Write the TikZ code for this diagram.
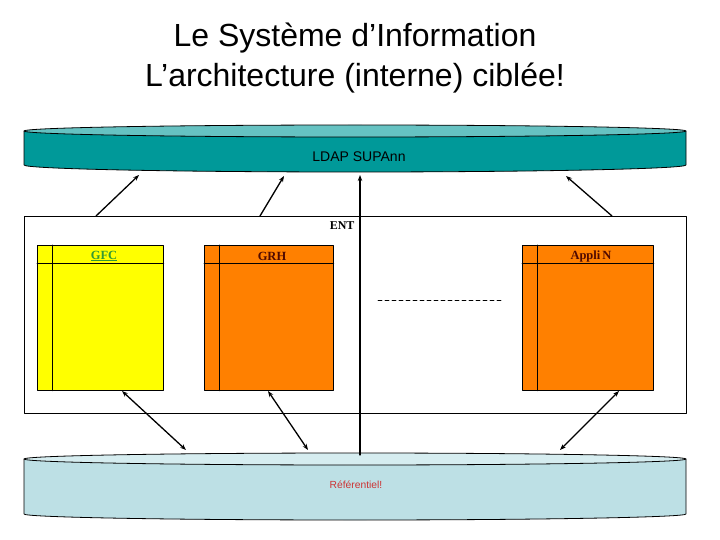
\documentclass[tikz,border=0pt]{standalone}
\usepackage{fontspec}
\setmainfont{Liberation Serif}
\setsansfont{Liberation Sans}
\usetikzlibrary{arrows.meta}

\begin{document}
\begin{tikzpicture}[x=1pt, y=-1pt, line cap=round, line join=round,
    >={Stealth[length=6pt, width=4.5pt]}]

  \useasboundingbox (0,0) rectangle (720,540);

  \def\L{24}           % left edge of bands and ENT
  \def\R{686}          % right edge
  \def\rx{331}         % half width of the bands
  \def\ry{6}           % flattening of the band ellipses

  % Colors
  \definecolor{ldapBody}{RGB}{0,153,153}
  \definecolor{ldapTop}{RGB}{102,194,194}
  \definecolor{refBody}{RGB}{189,224,229}
  \definecolor{refTop}{RGB}{214,237,240}
  \definecolor{appYellow}{RGB}{255,255,0}
  \definecolor{appOrange}{RGB}{255,128,0}
  \definecolor{gfcGreen}{RGB}{51,153,51}
  \definecolor{appText}{RGB}{80,10,0}
  \definecolor{refRed}{RGB}{204,51,51}

  \tikzset{
    appbox/.style={draw, line width=0.8pt, minimum width=126pt, minimum height=145pt,
      anchor=north west, inner sep=0pt},
    applabel/.style={font=\bfseries\fontsize{12.5}{14}\selectfont, text=appText},
    link/.style={line width=1.3pt}
  }

  % Title
  \node[font=\sffamily\fontsize{32}{36}\selectfont] (title1) at (355,38) {Le Système d’Information};
  \node[font=\sffamily\fontsize{32}{36}\selectfont] (title2) at (355,78) {L’architecture (interne) ciblée!};

  % LDAP band (flat cylinder)
  \draw[fill=ldapBody, line width=0.8pt] (\L,131) -- (\L,165)
    arc[start angle=180, end angle=360, x radius=\rx, y radius=-7] -- (\R,131) -- cycle;
  \draw[fill=ldapTop, line width=0.8pt] (355,131) ellipse[x radius=\rx, y radius=\ry];
  \node[font=\sffamily\fontsize{14}{16}\selectfont] (ldap) at (359,157) {LDAP SUPAnn};

  % Referentiel band
  \draw[fill=refBody, line width=0.8pt] (\L,459) -- (\L,514)
    arc[start angle=180, end angle=360, x radius=\rx, y radius=-6] -- (\R,459) -- cycle;
  \draw[fill=refTop, line width=0.8pt] (355,459) ellipse[x radius=\rx, y radius=\ry];
  \node[font=\sffamily\fontsize{10.3}{12}\selectfont, text=refRed] (ref) at (356,485) {Référentiel!};

  % ENT frame
  \node[draw, line width=0.8pt, minimum width=662pt, minimum height=197pt,
    anchor=north west, inner sep=0pt] (ent) at (\L,216) {};
  \node[font=\bfseries\fontsize{12}{14}\selectfont, anchor=east] (entlabel) at (358,226) {ENT};

  % Applications
  \node[appbox, fill=appYellow] (gfc) at (37,245) {};
  \node[appbox, fill=appOrange, minimum width=129pt] (grh) at (204,245) {};
  \node[appbox, fill=appOrange, minimum width=131pt] (applin) at (522,245) {};
  \foreach \a in {gfc, grh, applin} {
    \draw[line width=0.8pt] ([xshift=15pt]\a.north west) -- ([xshift=15pt]\a.south west);
    \draw[line width=0.8pt] ([yshift=-18pt]\a.north west) -- ([yshift=-18pt]\a.north east);
  }
  \node[applabel, text=gfcGreen] (gfclabel) at (104,256) {\underline{GFC}};
  \node[applabel] (grhlabel) at (272,256) {GRH};
  \node[applabel] (applilabel) at (591,256) {Appli\,N};

  % dashed placeholder
  \coordinate (dashA) at (378,300);
  \coordinate (dashB) at (502,300);
  \draw[dashed, line width=0.8pt, dash pattern=on 4pt off 3pt] (dashA) -- (dashB);

  % Links to LDAP
  \coordinate (entA) at (96,216);   \coordinate (ldapA) at (139,175);
  \coordinate (entB) at (260,216);  \coordinate (ldapB) at (284,176);
  \coordinate (refC) at (360,455);  \coordinate (ldapC) at (360,175);
  \coordinate (entD) at (612,216);  \coordinate (ldapD) at (566,176);
  \draw[->, link] (entA) -- (ldapA);
  \draw[->, link] (entB) -- (ldapB);
  \draw[->, link] (refC) -- (ldapC);
  \draw[->, link] (entD) -- (ldapD);

  % Links to the referentiel
  \coordinate (gfcA) at (122,391);   \coordinate (refA) at (186,450);
  \coordinate (grhB) at (268,391);   \coordinate (refB) at (308,450);
  \coordinate (appD) at (619,391);   \coordinate (refD) at (560,450);
  \draw[<->, link] (gfcA) -- (refA);
  \draw[<->, link] (grhB) -- (refB);
  \draw[<->, link] (appD) -- (refD);

\end{tikzpicture}
\end{document}
